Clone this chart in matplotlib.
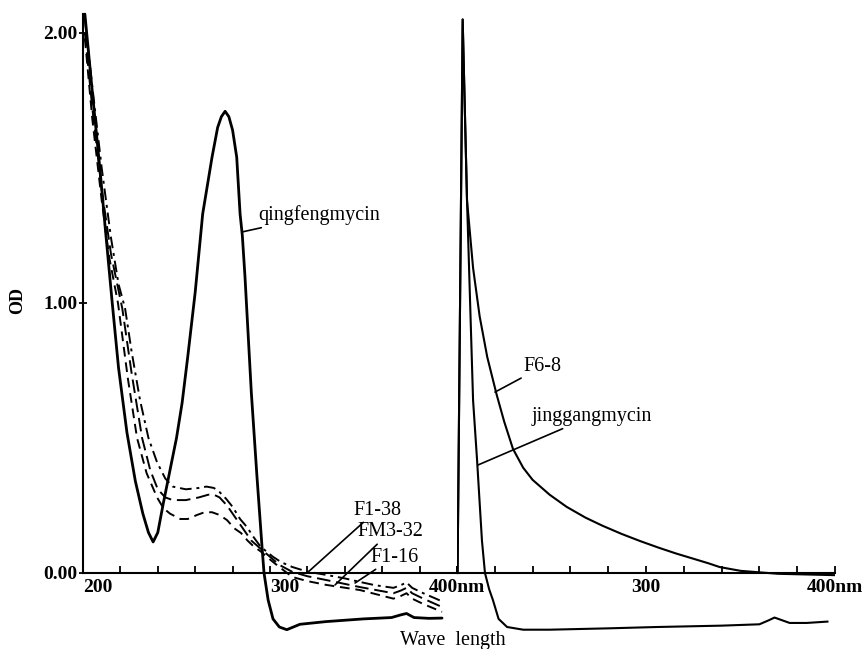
#!/usr/bin/python3
#-*- coding: UTF-8 -*-
import matplotlib.pyplot as plt
import numpy as np

plt.rcParams['font.family'] = ['Liberation Serif', 'DejaVu Serif']

# left panel: qingfengmycin and the three F strains
qfNm = [201, 205, 209, 212, 215.5, 219, 223.5, 228, 232, 235, 237.5, 240, 243, 246.5, 250, 253, 256,
        260, 264, 269, 272, 274, 276, 278, 280, 282.2, 284, 285.2, 286.6, 290, 293, 295.7, 296.8, 299,
        301.6, 305, 309, 316, 330, 350, 365, 370, 373, 377, 385, 392]
qfOD = [2.07, 1.78, 1.5, 1.27, 1.01, 0.76, 0.52, 0.34, 0.22, 0.15, 0.115, 0.15, 0.26, 0.38, 0.5, 0.63, 0.8,
        1.04, 1.33, 1.54, 1.65, 1.69, 1.71, 1.69, 1.64, 1.54, 1.33, 1.25, 1.1, 0.67, 0.36, 0.1, 0.0, -0.1,
        -0.17, -0.2, -0.21, -0.19, -0.18, -0.17, -0.165, -0.155, -0.15, -0.165, -0.168, -0.167]

f138Nm = [201, 205, 210, 215, 219, 222.5, 226, 230.5, 235, 239.6, 244, 248, 255, 262, 266, 270, 273, 276.5,
          280, 284, 287.7, 291, 294.7, 298, 301.6, 306, 312, 320, 330, 340, 348, 356, 366, 370, 373, 376, 382, 392]
f138OD = [2.05, 1.8, 1.5, 1.24, 1.07, 0.98, 0.82, 0.64, 0.5, 0.41, 0.35, 0.32, 0.31, 0.315, 0.32, 0.315, 0.3, 0.275,
          0.245, 0.2, 0.17, 0.135, 0.1, 0.08, 0.06, 0.04, 0.022, 0.005, -0.007, -0.02, -0.033, -0.045, -0.055,
          -0.045, -0.035, -0.055, -0.075, -0.105]

fm332Nm = [201, 205, 210, 215, 221, 226, 231.6, 236, 240, 244, 248, 255, 262, 267, 270, 273, 277, 281, 285,
           290, 295, 300, 305, 312, 320, 330, 348, 366, 370, 373, 376, 382, 392]
fm332OD = [2.0, 1.72, 1.42, 1.18, 0.98, 0.74, 0.5, 0.38, 0.31, 0.28, 0.27, 0.27, 0.28, 0.29, 0.29, 0.28, 0.25,
           0.21, 0.17, 0.12, 0.09, 0.06, 0.03, 0.004, -0.012, -0.026, -0.052, -0.075, -0.065, -0.055, -0.075,
           -0.095, -0.126]

f116Nm = [201, 205, 210, 214, 218.7, 224, 228.9, 234, 239.6, 243, 246.5, 252, 256, 261, 265, 269, 273, 277,
          281, 284.5, 288, 291, 295, 300, 305, 312, 320, 330, 348, 366, 370, 373, 376, 382, 392]
f116OD = [1.98, 1.68, 1.38, 1.17, 1.0, 0.72, 0.5, 0.37, 0.28, 0.24, 0.22, 0.2, 0.2, 0.215, 0.225, 0.225, 0.215,
          0.196, 0.165, 0.148, 0.12, 0.1, 0.08, 0.05, 0.022, -0.015, -0.03, -0.044, -0.063, -0.095, -0.085,
          -0.075, -0.095, -0.115, -0.144]

# right panel: F6-8 and jinggangmycin
f68Nm = [200.3, 203, 205.3, 208.5, 212, 216, 221, 225, 229.6, 235, 240, 249, 258, 268, 277, 287, 297, 307,
         316, 325, 333, 339, 350, 370, 400]
f68OD = [0.0, 2.05, 1.38, 1.13, 0.95, 0.8, 0.66, 0.56, 0.46, 0.39, 0.345, 0.29, 0.245, 0.205, 0.175, 0.145,
         0.118, 0.093, 0.072, 0.053, 0.036, 0.022, 0.008, -0.003, -0.008]

jgNm = [200.3, 203, 205.3, 206.9, 208.5, 210.6, 213.2, 214.8, 217, 219, 222, 226.5, 235, 249, 280, 306, 340,
        360, 365, 368, 372, 376, 385, 396]
jgOD = [0.0, 2.05, 1.38, 1.01, 0.64, 0.42, 0.12, 0.0, -0.06, -0.1, -0.17, -0.2, -0.21, -0.21, -0.205, -0.2,
        -0.195, -0.19, -0.175, -0.165, -0.175, -0.185, -0.185, -0.18]

tickNm = [200, 220, 240, 260, 280, 300, 320, 340, 360, 380, 400]
leftTickLabels = ['200', '', '', '', '', '300', '', '', '', '', '400nm']
rightTickLabels = ['', '', '', '', '', '300', '', '', '', '', '400nm']
odTicks = [0.0, 1.0, 2.0]
odTickLabels = ['0.00', '1.00', '2.00']

labelSize = 14.5
tickSize = 14


def styleAxis(ax, labels):
    ax.set_xlim(200, 400)
    ax.set_ylim(-0.2815, 2.1222)
    ax.spines['top'].set_visible(False)
    ax.spines['right'].set_visible(False)
    ax.spines['bottom'].set_position(('data', 0))
    ax.spines['bottom'].set_linewidth(1.5)
    ax.set_xticks(tickNm, labels)
    ax.tick_params(axis='x', direction='in', length=5, width=1.3, pad=4)
    for t in ax.get_xticklabels():
        t.set_fontsize(tickSize)
        t.set_fontweight('bold')
    ax.patch.set_alpha(0)


def annotate(ax, text, xy, xytext):
    ax.annotate(text, xy=xy, xytext=xytext, fontsize=labelSize, ha='left', va='center',
                arrowprops=dict(arrowstyle='-', color='black', lw=1.2, shrinkA=0, shrinkB=0))


def plotSpectra():
    fig = plt.figure(figsize=(8.67, 6.49), dpi=100)
    axL = fig.add_axes([83 / 867, 0.0, 374 / 867, 1.0])
    axR = fig.add_axes([457 / 867, 0.0, 378 / 867, 1.0])

    axL.plot(qfNm, qfOD, color='black', lw=2.0, solid_capstyle='round')
    axL.plot(f138Nm, f138OD, color='black', lw=1.4, linestyle=(0, (6, 2.5, 1.5, 2.5)))
    axL.plot(fm332Nm, fm332OD, color='black', lw=1.4, linestyle=(0, (7, 3)))
    axL.plot(f116Nm, f116OD, color='black', lw=1.4, linestyle=(0, (5, 3)))

    axR.plot(f68Nm, f68OD, color='black', lw=1.5)
    axR.plot(jgNm, jgOD, color='black', lw=1.5)

    styleAxis(axL, leftTickLabels)
    styleAxis(axR, rightTickLabels)

    labs = axL.get_xticklabels()
    labs[0].set_ha('left')
    labs[5].set_ha('left')
    labs[10].set_ha('center')

    axL.spines['left'].set_bounds(0, 2.07)
    axL.spines['left'].set_linewidth(1.5)
    axL.set_yticks(odTicks, odTickLabels)
    axL.tick_params(axis='y', direction='inout', length=6, width=1.3, pad=1)
    for t in axL.get_yticklabels():
        t.set_fontsize(tickSize)
        t.set_fontweight('bold')

    axR.spines['left'].set_visible(False)
    axR.set_yticks([])

    annotate(axL, 'qingfengmycin', (285.0, 1.263), (293.6, 1.326))
    annotate(axL, 'F1-38', (319.8, 0.0), (344.4, 0.233))
    annotate(axL, 'FM3-32', (334.8, -0.044), (346.5, 0.152))
    annotate(axL, 'F1-16', (345.5, -0.037), (353.5, 0.059))
    annotate(axR, 'F6-8', (220.1, 0.67), (235.4, 0.765))
    annotate(axR, 'jinggangmycin', (211.1, 0.40), (239.2, 0.58))

    fig.text(18 / 867, 1 - 300 / 649, 'OD', rotation=90, fontsize=13, fontweight='bold',
             ha='center', va='center')
    fig.text(453 / 867, 1 - 641 / 649, 'Wave  length', fontsize=labelSize, ha='center', va='center')

    fig.savefig('out.png', dpi=100)


def main():
    plotSpectra()

if __name__ == '__main__':
    main()
